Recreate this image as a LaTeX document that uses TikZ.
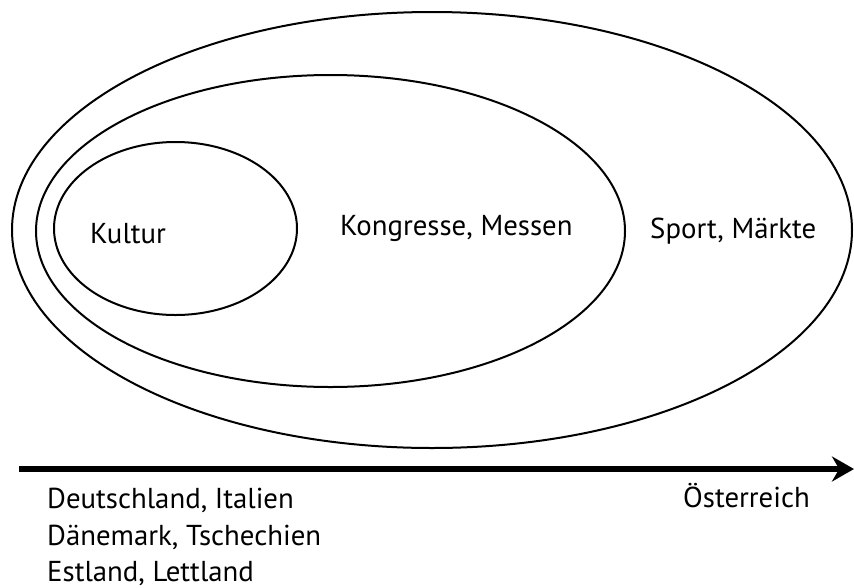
\documentclass[tikz,border=0pt]{standalone}
\usepackage{fontspec}
\setmainfont{PT Sans}
\usetikzlibrary{shapes.geometric,arrows.meta}
\begin{document}
\begin{tikzpicture}[x=1pt,y=-1pt]

\tikzstyle{ring}=[ellipse, draw, line width=2pt, inner sep=0pt]
\tikzstyle{txt}=[anchor=base west, inner sep=0pt, font=\fontsize{28.8}{34}\selectfont]
\tikzstyle{axis}=[-{Stealth[length=22pt,width=25pt]}, line width=6pt]

\useasboundingbox (0,0) rectangle (854,587);

\node (all) [ring, minimum width=840pt, minimum height=436pt] at (432,230) {};
\node (mid) [ring, minimum width=589pt, minimum height=312pt] at (330.5,231) {};
\node (core) [ring, minimum width=243pt, minimum height=173pt] at (175.5,228.5) {};

\node (kultur) [txt] at (90,243) {Kultur};
\node (kongress) [txt] at (340,235) {Kongresse, Messen};
\node (sport) [txt] at (650,238) {Sport, Märkte};

\coordinate (start) at (19,469);
\coordinate (end) at (854,469);
\draw [axis] (start) -- (end);

\node (de) [txt] at (47,508) {Deutschland, Italien};
\node (dk) [txt] at (47,545) {Dänemark, Tschechien};
\node (ee) [txt] at (47,581) {Estland, Lettland};
\node (at) [txt] at (683,507) {Österreich};

\end{tikzpicture}
\end{document}
